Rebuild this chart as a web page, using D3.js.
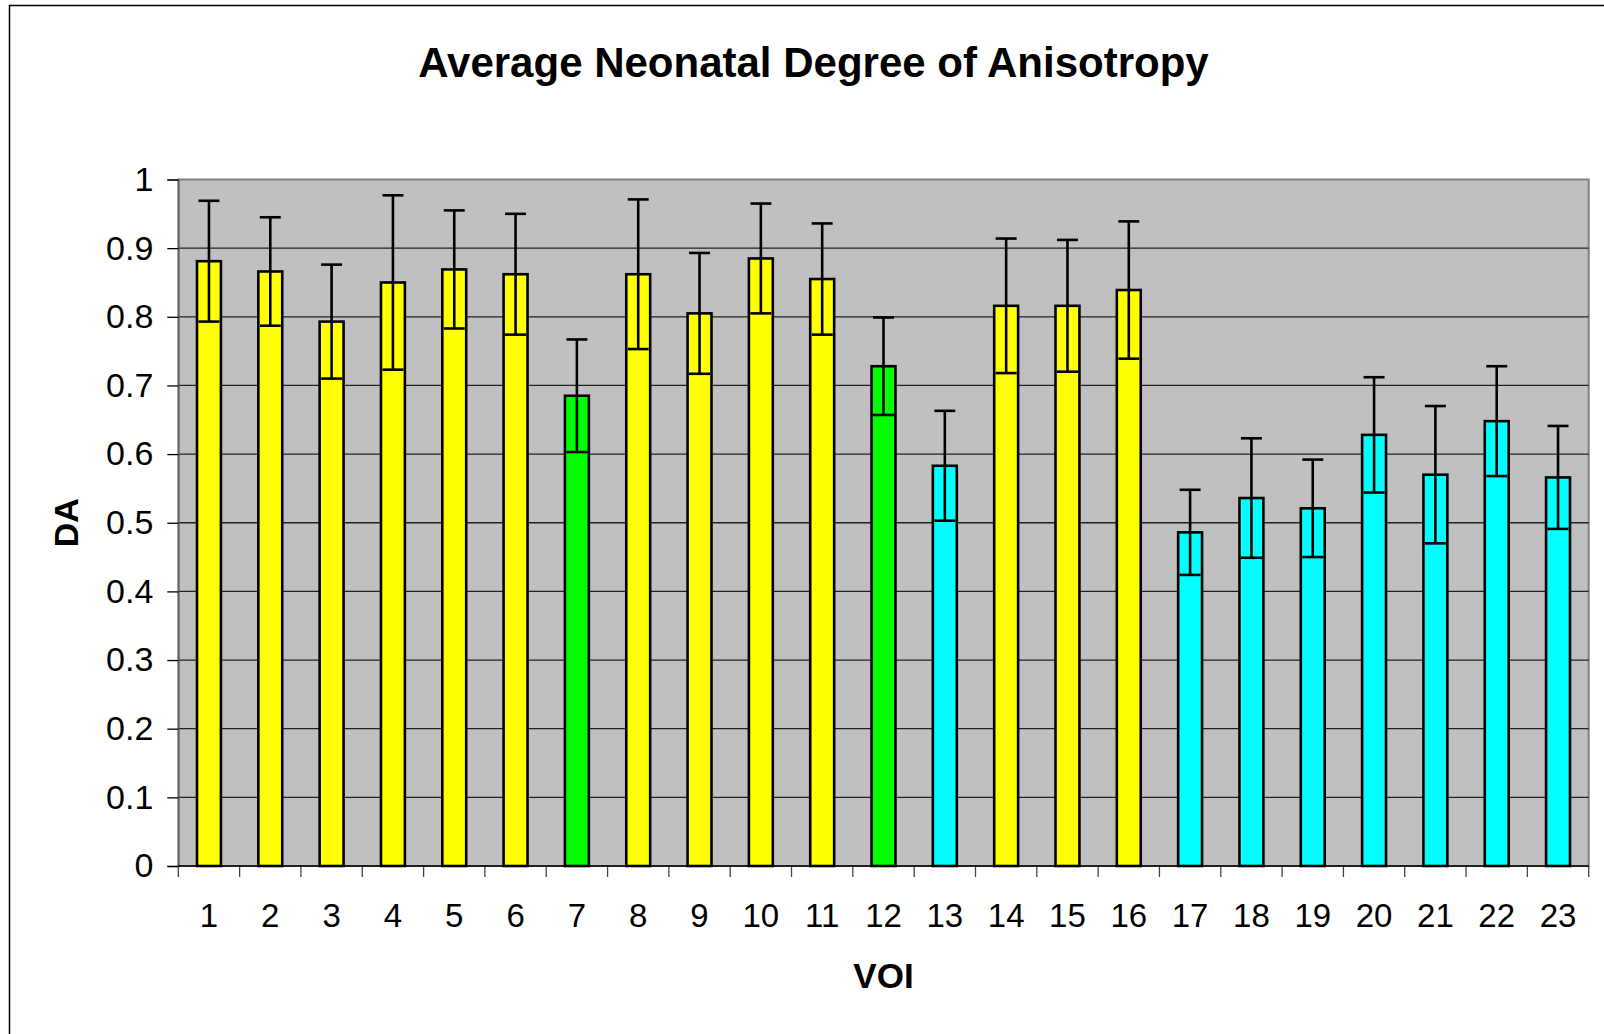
<!DOCTYPE html>
<html><head><meta charset="utf-8">
<script src="https://cdn.jsdelivr.net/npm/d3@7"></script>
<style>html,body{margin:0;padding:0;background:#fff;}svg{display:block;}</style>
</head><body>
<svg id="chart" width="1604" height="1034"></svg>
<script>
const categories = ["1","2","3","4","5","6","7","8","9","10","11","12","13","14","15","16","17","18","19","20","21","22","23"];
const values = [0.881,0.866,0.793,0.850,0.869,0.862,0.685,0.862,0.805,0.885,0.855,0.728,0.583,0.816,0.816,0.839,0.486,0.536,0.521,0.628,0.570,0.648,0.566];
const errors = [0.088,0.079,0.083,0.127,0.086,0.088,0.082,0.109,0.088,0.080,0.081,0.071,0.080,0.098,0.096,0.100,0.062,0.087,0.071,0.084,0.100,0.080,0.075];
const groups = ["a","a","a","a","a","a","b","a","a","a","a","b","c","a","a","a","c","c","c","c","c","c","c"];
const groupColors = {a:"#FFFF00", b:"#00FF00", c:"#00FFFF"};
const yTicks = [0,0.1,0.2,0.3,0.4,0.5,0.6,0.7,0.8,0.9,1];
const yTickLabels = ["0","0.1","0.2","0.3","0.4","0.5","0.6","0.7","0.8","0.9","1"];

const svg = d3.select("#chart");
const L = 178.3, R = 1588.7, T = 179.5, B = 866;
const font = "'Liberation Sans', Arial, sans-serif";

// outer chart border (right/bottom cut off)
svg.append("rect").attr("x",9.5).attr("y",5.5).attr("width",1620).attr("height",1060)
  .attr("fill","#fff").attr("stroke","#000").attr("stroke-width",1.5);

const x = d3.scaleBand().domain(categories).range([L,R]).padding(0);
const y = d3.scaleLinear().domain([0,1]).range([B,T]);

// plot area
svg.append("rect").attr("x",L).attr("y",T).attr("width",R-L).attr("height",B-T)
  .attr("fill","#C0C0C0").attr("stroke","#808080").attr("stroke-width",2);

// gridlines
svg.append("g").selectAll("line").data(yTicks.filter(d=>d>0 && d<1)).join("line")
  .attr("x1",L).attr("x2",R).attr("y1",d=>y(d)).attr("y2",d=>y(d))
  .attr("stroke","#222").attr("stroke-width",1.3);

// y axis
const yAxis = d3.axisLeft(y).tickValues(yTicks).tickFormat((d,i)=>yTickLabels[i]).tickSize(11).tickPadding(14);
const gy = svg.append("g").attr("transform",`translate(${L},0)`).call(yAxis);
gy.select(".domain").attr("stroke","#606060").attr("stroke-width",1.5);
gy.selectAll(".tick line").attr("stroke","#000").attr("stroke-width",1.3);
gy.selectAll(".tick text").attr("font-family",font).attr("font-size",34).attr("fill","#000");

// x axis
const xAxis = d3.axisBottom(x).tickSize(0).tickPadding(0);
const gx = svg.append("g").attr("transform",`translate(0,${B})`).call(xAxis);
gx.select(".domain").remove();
gx.selectAll(".tick text").attr("font-family",font).attr("font-size",33).attr("fill","#000")
  .attr("dy",null).attr("y",61);
// category boundary ticks
const bounds = categories.map(c=>x(c)).concat([R]);
svg.append("g").selectAll("line").data(bounds).join("line")
  .attr("x1",d=>d).attr("x2",d=>d).attr("y1",B).attr("y2",B+11)
  .attr("stroke","#444").attr("stroke-width",1.3);

// bars
const bw = x.bandwidth()*0.39;
const data = categories.map((c,i)=>({c, v:values[i], e:errors[i], g:groups[i]}));
svg.append("g").selectAll("rect").data(data).join("rect")
  .attr("x",d=>x(d.c)+x.bandwidth()/2-bw/2).attr("width",bw)
  .attr("y",d=>y(d.v)).attr("height",d=>B-y(d.v))
  .attr("fill",d=>groupColors[d.g]).attr("stroke","#000").attr("stroke-width",2.6);

// bottom axis line
svg.append("line").attr("x1",L).attr("x2",R).attr("y1",B).attr("y2",B)
  .attr("stroke","#000").attr("stroke-width",1.6);

// error bars
const eg = svg.append("g").attr("stroke","#000").attr("stroke-width",2.6);
const cap = 10.5;
data.forEach(d=>{
  const cx = x(d.c)+x.bandwidth()/2;
  eg.append("line").attr("x1",cx).attr("x2",cx).attr("y1",y(d.v+d.e)).attr("y2",y(d.v-d.e));
  eg.append("line").attr("x1",cx-cap).attr("x2",cx+cap).attr("y1",y(d.v+d.e)).attr("y2",y(d.v+d.e));
  eg.append("line").attr("x1",cx-cap).attr("x2",cx+cap).attr("y1",y(d.v-d.e)).attr("y2",y(d.v-d.e));
});

// title
svg.append("text").attr("x",813.5).attr("y",77).attr("text-anchor","middle")
  .attr("font-family",font).attr("font-weight","bold").attr("font-size",42)
  .text("Average Neonatal Degree of Anisotropy");
// axis titles
svg.append("text").attr("x",(L+R)/2).attr("y",988).attr("text-anchor","middle")
  .attr("font-family",font).attr("font-weight","bold").attr("font-size",35).text("VOI");
svg.append("text").attr("transform",`translate(78,${(T+B)/2}) rotate(-90)`).attr("text-anchor","middle")
  .attr("font-family",font).attr("font-weight","bold").attr("font-size",34).text("DA");
</script>
</body></html>
